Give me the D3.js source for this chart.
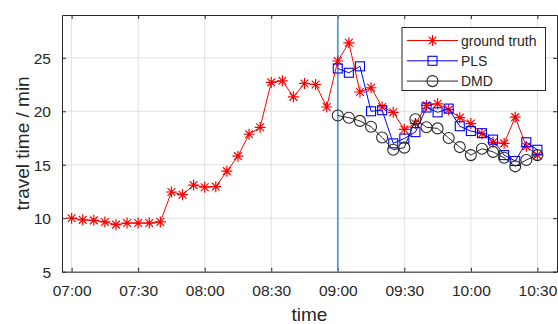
<!DOCTYPE html>
<html>
<head>
<meta charset="utf-8">
<script src="https://cdn.jsdelivr.net/npm/d3@7"></script>
<style>
  body { margin: 0; background: #fff; }
  svg text { font-family: "Liberation Sans", Arial, sans-serif; fill: #262626; }
</style>
</head>
<body>
<script>
// 5-minute samples, 07:00 .. 10:30
var times = ["07:00","07:05","07:10","07:15","07:20","07:25","07:30","07:35","07:40","07:45",
             "07:50","07:55","08:00","08:05","08:10","08:15","08:20","08:25","08:30","08:35",
             "08:40","08:45","08:50","08:55","09:00","09:05","09:10","09:15","09:20","09:25",
             "09:30","09:35","09:40","09:45","09:50","09:55","10:00","10:05","10:10","10:15",
             "10:20","10:25","10:30"];

var groundTruth = [10.0, 9.85, 9.8, 9.65, 9.4, 9.55, 9.55, 9.55, 9.65, 12.45,
                   12.2, 13.1, 12.9, 12.95, 14.4, 15.8, 17.85, 18.5, 22.7, 22.85,
                   21.35, 22.6, 22.5, 20.4, 24.7, 26.4, 21.8, 22.2, 20.4, 19.9,
                   18.3, 18.85, 20.55, 20.7, 20.15, 19.4, 18.85, 17.9, 17.1, 17.0,
                   19.45, 16.7, 15.9];

// predictions start at 09:00
var predStart = "09:00";
var pls = [24.0, 23.6, 24.2, 20.0, 20.1, 17.0, 17.45, 18.05, 20.35, 19.9,
           20.25, 18.6, 18.15, 17.95, 17.35, 15.9, 15.35, 17.1, 16.4];
var dmd = [19.6, 19.4, 19.1, 18.55, 17.55, 16.4, 16.6, 19.25, 18.5, 18.4,
           17.5, 16.65, 15.9, 16.5, 16.2, 15.65, 14.85, 15.45, 15.9];

var xTickLabels = ["07:00","07:30","08:00","08:30","09:00","09:30","10:00","10:30"];
var yTicks = [5, 10, 15, 20, 25];
var xDomain = ["06:55:40", "10:38:50"];
var yDomain = [5, 29];

var W = 558, H = 324;
var box = { left: 62, right: 557, top: 15, bottom: 271.7 };

var parse = d3.timeParse("%H:%M");
var parseS = d3.timeParse("%H:%M:%S");

var svg = d3.select("body").append("svg")
    .attr("width", W).attr("height", H);

var x = d3.scaleTime()
    .domain(xDomain.map(parseS))
    .range([box.left, box.right]);
var y = d3.scaleLinear()
    .domain(yDomain)
    .range([box.bottom, box.top]);

var xTickVals = xTickLabels.map(parse);

// grid
var grid = svg.append("g").attr("stroke", "#e0e0e0").attr("stroke-width", 1);
grid.selectAll(".gx").data(xTickVals).enter().append("line")
    .attr("x1", function(d) { return x(d); }).attr("x2", function(d) { return x(d); })
    .attr("y1", box.top).attr("y2", box.bottom);
grid.selectAll(".gy").data(yTicks).enter().append("line")
    .attr("y1", function(d) { return y(d); }).attr("y2", function(d) { return y(d); })
    .attr("x1", box.left).attr("x2", box.right);

// axes
var xAxis = d3.axisBottom(x).tickValues(xTickVals).tickFormat(d3.timeFormat("%H:%M"))
    .tickSizeInner(-4).tickSizeOuter(0).tickPadding(13);
var gx = svg.append("g").attr("transform", "translate(0," + box.bottom + ")").call(xAxis);
var xTop = d3.axisTop(x).tickValues(xTickVals).tickFormat("").tickSizeInner(-4).tickSizeOuter(0);
var gxt = svg.append("g").attr("transform", "translate(0," + box.top + ")").call(xTop);

var yAxis = d3.axisLeft(y).tickValues(yTicks).tickSizeInner(-4).tickSizeOuter(0).tickPadding(11);
var gy = svg.append("g").attr("transform", "translate(" + box.left + ",0)").call(yAxis);
var yRight = d3.axisRight(y).tickValues(yTicks).tickFormat("").tickSizeInner(-4).tickSizeOuter(0);
var gyr = svg.append("g").attr("transform", "translate(" + box.right + ",0)").call(yRight);

[gx, gxt, gy, gyr].forEach(function(g) {
    g.select(".domain").attr("stroke", "#262626");
    g.selectAll(".tick line").attr("stroke", "#262626");
    g.selectAll("text").attr("font-size", 15.5).attr("fill", "#333")
        .style("font-family", "'Liberation Sans', Arial, sans-serif");
});
gy.selectAll("text").attr("dy", "0.36em");

svg.append("text").attr("x", (box.left + box.right) / 2).attr("y", 321)
    .attr("text-anchor", "middle").attr("font-size", 19).attr("fill", "#333").text("time");
svg.append("text").attr("transform", "translate(29," + (box.top + box.bottom) / 2 + ") rotate(-90)")
    .attr("text-anchor", "middle").attr("font-size", 19).attr("fill", "#333").text("travel time / min");

// forecast start marker
svg.append("line")
    .attr("x1", x(parse(predStart))).attr("x2", x(parse(predStart)))
    .attr("y1", box.top).attr("y2", box.bottom)
    .attr("stroke", "#4e9cd3").attr("stroke-width", 1.7);

var gtData = times.map(function(t, i) { return { t: parse(t), v: groundTruth[i] }; });
var s0 = times.indexOf(predStart);
var plsData = pls.map(function(v, i) { return { t: parse(times[s0 + i]), v: v }; });
var dmdData = dmd.map(function(v, i) { return { t: parse(times[s0 + i]), v: v }; });

var line = d3.line().x(function(d) { return x(d.t); }).y(function(d) { return y(d.v); });

function star(g, cx, cy, r, color) {
    var p = "";
    for (var k = 0; k < 4; k++) {
        var a = k * Math.PI / 4;
        var dx = Math.cos(a) * r, dy = Math.sin(a) * r;
        p += "M" + (cx - dx) + "," + (cy - dy) + "L" + (cx + dx) + "," + (cy + dy);
    }
    g.append("path").attr("d", p).attr("stroke", color).attr("stroke-width", 1.2).attr("fill", "none");
}

function drawSeries(data, color, marker) {
    var g = svg.append("g");
    g.append("path").datum(data).attr("d", line)
        .attr("fill", "none").attr("stroke", color).attr("stroke-width", 1);
    data.forEach(function(d) { marker(g, x(d.t), y(d.v), color); });
}

function starMarker(g, cx, cy, color) { star(g, cx, cy, 5.5, color); }
function squareMarker(g, cx, cy, color) {
    g.append("rect").attr("x", cx - 4.5).attr("y", cy - 4.5).attr("width", 9).attr("height", 9)
        .attr("fill", "none").attr("stroke", color).attr("stroke-width", 1.1);
}
function circleMarker(g, cx, cy, color) {
    g.append("circle").attr("cx", cx).attr("cy", cy).attr("r", 5.5)
        .attr("fill", "none").attr("stroke", color).attr("stroke-width", 1.1);
}

drawSeries(gtData, "#ff0000", starMarker);
drawSeries(plsData, "#0000ff", squareMarker);
drawSeries(dmdData, "#262626", circleMarker);

// legend
var legendNames = ["ground truth", "PLS", "DMD"];
var legendColors = ["#ff0000", "#0000ff", "#262626"];
var legendMarkers = [starMarker, squareMarker, circleMarker];
var lg = svg.append("g");
lg.append("rect").attr("x", 402).attr("y", 27.5).attr("width", 143.5).attr("height", 63)
    .attr("fill", "#fff").attr("stroke", "#262626").attr("stroke-width", 1);
legendNames.forEach(function(n, i) {
    var ly = 40.5 + i * 20.3;
    lg.append("line").attr("x1", 407).attr("x2", 458).attr("y1", ly).attr("y2", ly)
        .attr("stroke", legendColors[i]).attr("stroke-width", 1);
    legendMarkers[i](lg, 432.5, ly, legendColors[i]);
    lg.append("text").attr("x", 461).attr("y", ly).attr("dy", "0.36em")
        .attr("font-size", 14).attr("fill", "#262626").text(n);
});
</script>
</body>
</html>
